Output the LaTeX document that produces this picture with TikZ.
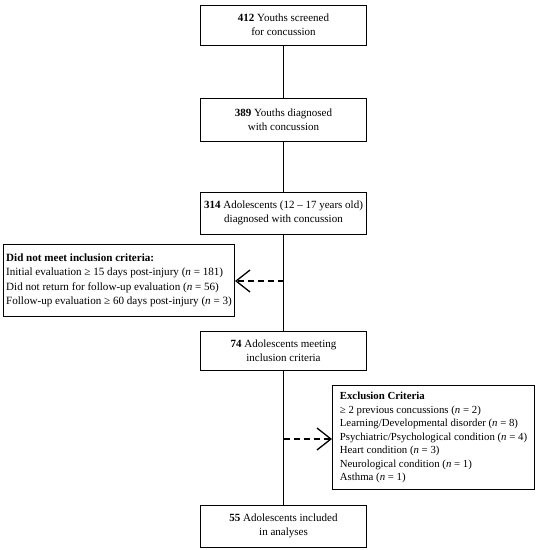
\documentclass[tikz,border=0pt]{standalone}
\usepackage{fontspec}
\setmainfont{Liberation Serif}
\usetikzlibrary{arrows.meta,calc}
\begin{document}
\begin{tikzpicture}[x=1pt,y=-1pt,
  flowbox/.style={draw,line width=1pt,minimum width=166pt,align=center,inner sep=2pt,font=\fontsize{11}{14}\selectfont},
  listbox/.style={draw,line width=1pt,align=left,inner sep=1.5pt,anchor=north west},
  link/.style={line width=1.6pt},
  side/.style={line width=1.3pt,dash pattern=on 6pt off 4pt,-{Straight Barb[length=14pt,width=22pt,line width=1.3pt]}}]
\useasboundingbox (0,0) rectangle (538,550);
\node[flowbox,minimum height=40pt] (b1) at (283.5,25) {\textbf{412} Youths screened\\for concussion};
\node[flowbox,minimum height=43pt] (b2) at (283.5,119.5) {\textbf{389} Youths diagnosed\\with concussion};
\node[flowbox,minimum height=42pt] (b3) at (283.5,213) {\textbf{314} Adolescents (12 -- 17 years old)\\diagnosed with concussion};
\node[flowbox,minimum height=39pt] (b4) at (283.5,351) {\textbf{74} Adolescents meeting\\inclusion criteria};
\node[flowbox,minimum height=42pt] (b5) at (283.5,526) {\textbf{55} Adolescents included\\in analyses};
\node[listbox,minimum width=231pt,minimum height=72pt,font=\fontsize{11.1}{14.5}\selectfont] (lb) at (3,244) {%
\textbf{Did not meet inclusion criteria:}\\
Initial evaluation ≥ 15 days post-injury (\textit{n} = 181)\\
Did not return for follow-up evaluation (\textit{n} = 56)\\
Follow-up evaluation ≥ 60 days post-injury (\textit{n} = 3)};
\node[listbox,minimum width=202pt,minimum height=104pt,font=\fontsize{10.8}{13.5}\selectfont] (rb) at (332,385) {%
\textbf{Exclusion Criteria}\\
≥ 2 previous concussions (\textit{n} = 2)\\
Learning/Developmental disorder (\textit{n} = 8)\\
Psychiatric/Psychological condition (\textit{n} = 4)\\
Heart condition (\textit{n} = 3)\\
Neurological condition (\textit{n} = 1)\\
Asthma (\textit{n} = 1)};
\coordinate (j1) at (283.5,281);
\coordinate (j2) at (283.5,439);
\draw[link] (b1) -- (b2);
\draw[link] (b2) -- (b3);
\draw[link] (b3) -- (b4);
\draw[link] (b4) -- (b5);
\draw[side] (j1) -- (j1 -| lb.east);
\draw[side] (j2) -- (j2 -| rb.west);
\end{tikzpicture}
\end{document}
